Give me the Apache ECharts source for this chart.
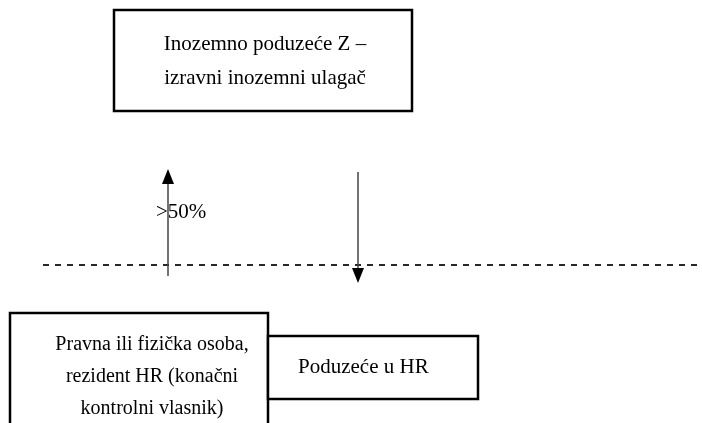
<!DOCTYPE html>
<html>
<head>
<meta charset="utf-8">
<script src="https://cdn.jsdelivr.net/npm/echarts@6/dist/echarts.min.js"></script>
<style>
html,body{margin:0;padding:0;background:#fff;}
#main{width:702px;height:423px;}
</style>
</head>
<body>
<div id="main"></div>
<script>
// texts of the diagram
var boxNames = [
	'Inozemno poduzeće Z –\nizravni inozemni ulagač',
	'Pravna ili fizička osoba,\nrezident HR (konačni\nkontrolni vlasnik)',
	'Poduzeće u HR'
];
var shareLabels = ['>50%', ''];
var arrowDirs = ['up', 'down'];

// layout (pixel units of the hidden axes)
var boxLayout = [
	{rect: [114, 10, 412, 111], text: [265, 61], align: 'center', size: 21, lh: 34},
	{rect: [10, 313, 268, 470], text: [152, 377], align: 'center', size: 20, lh: 32},
	{rect: [268, 336, 478, 399], text: [298, 367], align: 'left', size: 21, lh: 32}
];
var arrowLayout = [
	{x: 168, from: 276, to: 169, label: [156, 212]},
	{x: 358, from: 172, to: 283, label: null}
];
var dashLayout = {y: 265, from: 43, to: 702};

var font = '"Liberation Serif", "Times New Roman", serif';

function renderBox(params, api) {
	var i = api.value(0);
	var L = boxLayout[i];
	var p0 = api.coord([L.rect[0], L.rect[1]]);
	var p1 = api.coord([L.rect[2], L.rect[3]]);
	var t = api.coord(L.text);
	return {
		type: 'group',
		children: [
			{
				type: 'rect',
				shape: {x: p0[0], y: p0[1], width: p1[0] - p0[0], height: p1[1] - p0[1]},
				style: {fill: '#fff', stroke: '#000', lineWidth: 2.5}
			},
			{
				type: 'text',
				x: t[0],
				y: t[1],
				style: {
					text: boxNames[i],
					fill: '#000',
					font: L.size + 'px ' + font,
					lineHeight: L.lh,
					align: L.align,
					verticalAlign: 'middle'
				}
			}
		]
	};
}

function renderArrow(params, api) {
	var i = api.value(0);
	var A = arrowLayout[i];
	var a = api.coord([A.x, A.from]);
	var b = api.coord([A.x, A.to]);
	var dir = arrowDirs[i] == 'up' ? -1 : 1;
	var head = 15, half = 6;
	var children = [
		{
			type: 'line',
			shape: {x1: a[0], y1: a[1], x2: b[0], y2: b[1] - dir * head},
			style: {stroke: '#444', lineWidth: 1.5}
		},
		{
			type: 'polygon',
			shape: {points: [[b[0], b[1]], [b[0] - half, b[1] - dir * head], [b[0] + half, b[1] - dir * head]]},
			style: {fill: '#000'}
		}
	];
	if (A.label && shareLabels[i]) {
		var l = api.coord(A.label);
		children.push({
			type: 'text',
			x: l[0],
			y: l[1],
			style: {
				text: shareLabels[i],
				fill: '#000',
				font: '21px ' + font,
				align: 'left',
				verticalAlign: 'middle'
			}
		});
	}
	return {type: 'group', children: children};
}

function renderDash(params, api) {
	var a = api.coord([dashLayout.from, dashLayout.y]);
	var b = api.coord([dashLayout.to, dashLayout.y]);
	return {
		type: 'line',
		shape: {x1: a[0], y1: a[1], x2: b[0], y2: b[1]},
		style: {stroke: '#111', lineWidth: 1.8, lineDash: [6, 6]}
	};
}

var option = {
	backgroundColor: '#fff',
	animation: false,
	grid: {left: 0, right: 0, top: 0, bottom: 0},
	xAxis: {type: 'value', min: 0, max: 702, show: false},
	yAxis: {type: 'value', min: 0, max: 423, inverse: true, show: false},
	series: [
		{
			type: 'custom',
			renderItem: renderDash,
			data: [[0]],
			clip: false,
			z: 1
		},
		{
			type: 'custom',
			renderItem: renderArrow,
			data: arrowDirs.map(function(d, i){ return [i]; }),
			clip: false,
			z: 2
		},
		{
			type: 'custom',
			renderItem: renderBox,
			data: boxNames.map(function(d, i){ return [i]; }),
			clip: false,
			z: 3
		}
	]
};

var myChart = echarts.init(document.getElementById('main'));
myChart.setOption(option);
</script>
</body>
</html>
